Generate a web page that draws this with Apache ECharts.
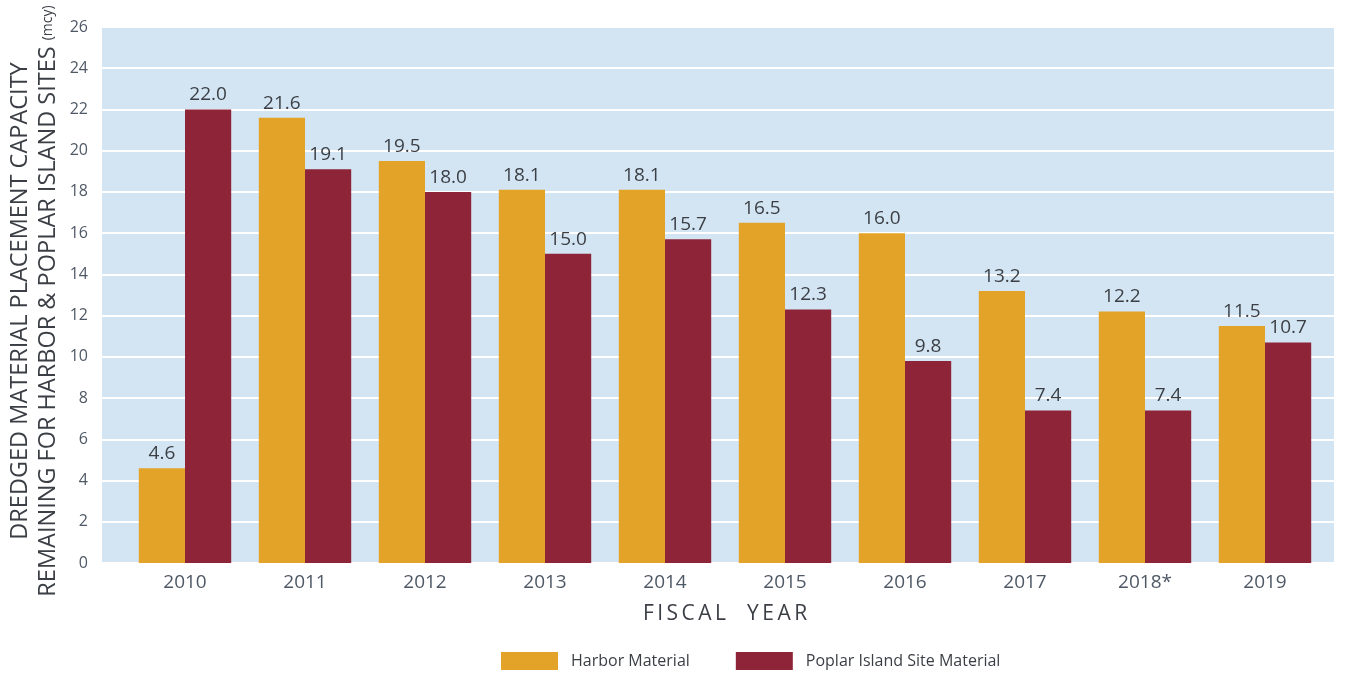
<!DOCTYPE html>
<html>
<head>
<meta charset="utf-8">
<script src="https://cdn.jsdelivr.net/npm/echarts@6/dist/echarts.min.js"></script>
<style>
  html, body { margin: 0; padding: 0; background: #ffffff; }
  #chart { width: 1346px; height: 675px; }
</style>
</head>
<body>
<div id="chart"></div>
<script>
// Fiscal years and remaining capacity (million cubic yards)
const years = ['2010', '2011', '2012', '2013', '2014', '2015', '2016', '2017', '2018*', '2019'];
const harborMaterial = [4.6, 21.6, 19.5, 18.1, 18.1, 16.5, 16.0, 13.2, 12.2, 11.5];
const poplarIslandMaterial = [22.0, 19.1, 18.0, 15.0, 15.7, 12.3, 9.8, 7.4, 7.4, 10.7];
const seriesNames = ['Harbor Material', 'Poplar Island Site Material'];
const yMin = 0, yMax = 26, yStep = 2;

const FONT = "'Open Sans', 'DejaVu Sans', sans-serif";
const TEXT = '#3b3f45';
const AXIS_TEXT = '#4f5966';

const chart = echarts.init(document.getElementById('chart'), null, { renderer: 'canvas' });

const valueLabel = {
  show: true,
  position: 'top',
  distance: 5,
  color: TEXT,
  fontFamily: FONT,
  fontSize: 19,
  formatter: p => p.value.toFixed(1)
};

chart.setOption({
  animation: false,
  backgroundColor: '#ffffff',
  grid: [
    // shaded backdrop with white gridlines
    { left: 102, right: 12, top: 27, bottom: 112, show: true, backgroundColor: '#d3e5f3', borderWidth: 0,
      containLabel: false, outerBoundsMode: 'none' },
    // bar area
    { left: 125, right: 21, top: 27, bottom: 112, containLabel: false, outerBoundsMode: 'none' }
  ],
  legend: {
    data: seriesNames,
    top: 647,
    left: 496,
    itemWidth: 57,
    itemHeight: 18,
    itemGap: 46,
    icon: 'rect',
    textStyle: { color: TEXT, fontFamily: FONT, fontSize: 16, padding: [0, 0, 0, 8] }
  },
  xAxis: [
    { gridIndex: 0, type: 'value', min: 0, max: 1, show: false },
    {
      gridIndex: 1,
      type: 'category',
      data: years,
      axisLine: { show: false },
      axisTick: { show: false },
      axisLabel: { color: AXIS_TEXT, fontFamily: FONT, fontSize: 19, margin: 10 },
      name: 'F\u2009I\u2009S\u2009C\u2009A\u2009L\u2003Y\u2009E\u2009A\u2009R',
      nameLocation: 'middle',
      nameGap: 41,
      nameMoveOverlap: false,
      nameTextStyle: { color: TEXT, fontFamily: FONT, fontSize: 21 }
    }
  ],
  yAxis: [
    {
      gridIndex: 0,
      type: 'value',
      min: yMin,
      max: yMax,
      interval: yStep,
      axisLine: { show: false },
      axisTick: { show: false },
      splitLine: { show: true, lineStyle: { color: '#ffffff', width: 2 } },
      axisLabel: { color: AXIS_TEXT, fontFamily: FONT, fontSize: 16, margin: 14 },
      name: 'DREDGED MATERIAL PLACEMENT CAPACITY\nREMAINING FOR HARBOR & POPLAR ISLAND SITES {s|(mcy)}',
      nameLocation: 'middle',
      nameRotate: 90,
      nameGap: 40,
      nameMoveOverlap: false,
      nameTextStyle: {
        color: TEXT,
        fontFamily: FONT,
        fontSize: 23.5,
        lineHeight: 28,
        align: 'center',
        padding: [0, 12, 0, 0],
        rich: { s: { fontSize: 14, color: TEXT, fontFamily: FONT } }
      }
    },
    {
      gridIndex: 1,
      type: 'value',
      min: yMin,
      max: yMax,
      interval: yStep,
      show: false,
      splitLine: { show: false }
    }
  ],
  series: [
    {
      name: seriesNames[0],
      type: 'bar',
      xAxisIndex: 1,
      yAxisIndex: 1,
      data: harborMaterial,
      barGap: '0%',
      barCategoryGap: '23%',
      itemStyle: { color: '#e2a328' },
      label: valueLabel
    },
    {
      name: seriesNames[1],
      type: 'bar',
      xAxisIndex: 1,
      yAxisIndex: 1,
      data: poplarIslandMaterial,
      barGap: '0%',
      barCategoryGap: '23%',
      itemStyle: { color: '#8e2437' },
      label: valueLabel
    }
  ]
});
</script>
</body>
</html>
